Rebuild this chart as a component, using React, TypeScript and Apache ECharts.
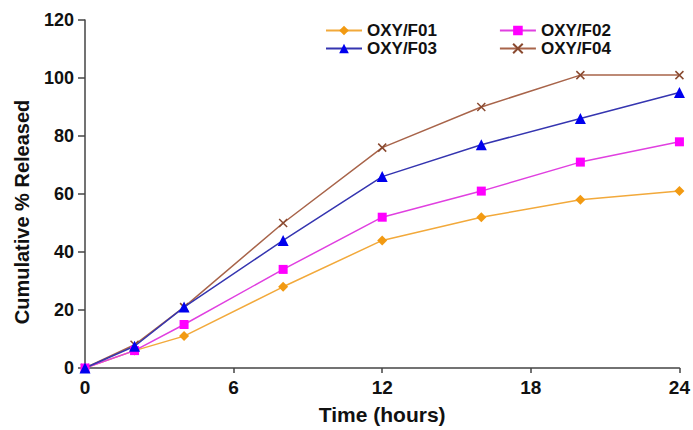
import React, { useEffect, useRef } from "react";
import * as echarts from "echarts";

const times = [0, 2, 4, 8, 12, 16, 20, 24];
const f01 = [0, 6, 11, 28, 44, 52, 58, 61];
const f02 = [0, 6, 15, 34, 52, 61, 71, 78];
const f03 = [0, 7.5, 21, 44, 66, 77, 86, 95];
const f04 = [0, 8, 21, 50, 76, 90, 101, 101];
const seriesNames = ["OXY/F01", "OXY/F02", "OXY/F03", "OXY/F04"];
const xTicks = [0, 6, 12, 18, 24];
const yTicks = [0, 20, 40, 60, 80, 100, 120];

const FONT = "'Liberation Sans', Arial, Helvetica, sans-serif";

export default function App() {
  const ref = useRef<HTMLDivElement>(null);
  useEffect(() => {
    document.body.style.margin = "0";
    const chart = echarts.init(ref.current!, null, { renderer: "svg" });
    const pair = (vals: number[]) => times.map((t, i) => [t, vals[i]]);
    const legendText = { fontSize: 17, fontWeight: "bold" as const, color: "#111", fontFamily: FONT };
    chart.setOption({
      animation: false,
      backgroundColor: "#fff",
      grid: { left: 85, right: 11, top: 20, bottom: 61 },
      legend: [
        {
          data: [seriesNames[0], seriesNames[1]],
          left: 325, top: 22, padding: 0, itemWidth: 36, itemHeight: 12, itemGap: 62,
          textStyle: legendText,
        },
        {
          data: [seriesNames[2], seriesNames[3]],
          left: 325, top: 40, padding: 0, itemWidth: 36, itemHeight: 12, itemGap: 62,
          textStyle: legendText,
        },
      ],
      xAxis: {
        type: "value",
        min: xTicks[0],
        max: xTicks[xTicks.length - 1],
        interval: 6,
        name: "Time (hours)",
        nameLocation: "middle",
        nameGap: 36,
        nameTextStyle: { fontSize: 21, fontWeight: "bold", color: "#111", fontFamily: FONT },
        axisLine: { show: true, lineStyle: { color: "#444", width: 1.5 } },
        axisTick: { show: true, inside: false, length: 5, lineStyle: { color: "#444", width: 1.5 } },
        axisLabel: { margin: 10, fontSize: 19, fontWeight: "bold", color: "#111", fontFamily: FONT },
        splitLine: { show: false },
      },
      yAxis: {
        type: "value",
        min: yTicks[0],
        max: yTicks[yTicks.length - 1],
        interval: 20,
        axisLine: { show: true, lineStyle: { color: "#444", width: 1.5 } },
        axisTick: { show: true, inside: false, length: 7, lineStyle: { color: "#444", width: 1.5 } },
        axisLabel: { margin: 11, fontSize: 18, fontWeight: "bold", color: "#111", fontFamily: FONT },
        splitLine: { show: false },
      },
      graphic: [
        {
          type: "text",
          x: 22,
          y: 212,
          rotation: Math.PI / 2,
          style: {
            text: "Cumulative % Released",
            fontSize: 20,
            fontWeight: "bold",
            fill: "#111",
            fontFamily: FONT,
            align: "center",
            verticalAlign: "middle",
          },
        },
      ],
      series: [
        {
          name: seriesNames[0],
          type: "line",
          data: pair(f01),
          symbol: "diamond",
          symbolSize: 10,
          lineStyle: { color: "#f2a93b", width: 1.5 },
          itemStyle: { color: "#f29a12" },
        },
        {
          name: seriesNames[1],
          type: "line",
          data: pair(f02),
          symbol: "rect",
          symbolSize: 9,
          lineStyle: { color: "#e040e0", width: 1.5 },
          itemStyle: { color: "#ff00ff" },
        },
        {
          name: seriesNames[2],
          type: "line",
          data: pair(f03),
          symbol: "triangle",
          symbolSize: 11,
          lineStyle: { color: "#3535b0", width: 1.5 },
          itemStyle: { color: "#0000ee" },
        },
        {
          name: seriesNames[3],
          type: "line",
          data: pair(f04),
          symbol: "path://M0,0L10,10M10,0L0,10",
          symbolSize: 8,
          lineStyle: { color: "#a8644a", width: 1.5 },
          itemStyle: { color: "#a8644a", borderColor: "#8a4a30", borderWidth: 1.5 },
          z: 1,
        },
      ],
    });
    return () => chart.dispose();
  }, []);
  return <div ref={ref} style={{ width: 693, height: 430 }} />;
}
